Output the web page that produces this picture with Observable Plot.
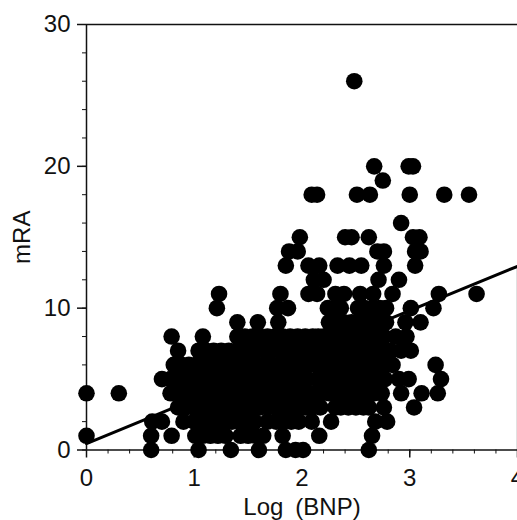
<!DOCTYPE html>
<html><head><meta charset="utf-8">
<script src="https://cdn.jsdelivr.net/npm/d3@7"></script>
<script src="https://cdn.jsdelivr.net/npm/@observablehq/plot@0.6"></script>
<style>html,body{margin:0;padding:0;background:#fff}svg{display:block}</style>
</head><body><div id="chart"></div>
<script>
const mra0=[0.6,1.04,1.34,1.6,1.85,1.94,2.01,2.62];
const mra1=[0,0.6,0.79,1.01,1.08,1.15,1.22,1.29,1.43,1.5,1.57,1.64,1.82,2.16,2.65];
const mra2=[0.61,0.7,0.9,1.0,1.07,1.14,1.21,1.28,1.35,1.42,1.49,1.56,1.68,1.76,1.83,1.9,1.97,2.09,2.27,2.68,2.79];
const mra3=[0.85,0.92,0.99,1.06,1.13,1.2,1.27,1.34,1.41,1.47,1.54,1.61,1.68,1.75,1.82,1.89,1.96,2.03,2.1,2.17,2.31,2.36,2.43,2.5,2.57,2.62,2.76,3.04];
const mra4=[0,0.3,0.78,0.85,0.92,0.99,1.06,1.13,1.2,1.27,1.34,1.41,1.48,1.55,1.62,1.69,1.76,1.83,1.9,1.97,2.04,2.11,2.18,2.25,2.32,2.39,2.46,2.53,2.6,2.67,2.74,2.92,3.11,3.26];
const mra5=[0.7,0.78,0.85,0.92,0.99,1.06,1.13,1.2,1.27,1.34,1.41,1.48,1.56,1.63,1.7,1.77,1.84,1.91,1.98,2.05,2.14,2.21,2.28,2.35,2.42,2.49,2.56,2.63,2.7,2.77,2.9,2.99,3.29];
const mra6=[0.81,0.88,0.95,1.02,1.09,1.16,1.23,1.3,1.37,1.44,1.51,1.58,1.65,1.72,1.79,1.86,1.93,2.0,2.07,2.14,2.21,2.28,2.35,2.42,2.49,2.56,2.63,2.7,2.77,2.84,3.24];
const mra7=[0.85,1.04,1.11,1.18,1.25,1.32,1.39,1.46,1.52,1.58,1.65,1.72,1.79,1.85,1.91,1.98,2.05,2.12,2.19,2.26,2.33,2.4,2.47,2.54,2.61,2.68,2.75,2.82,2.92,3.01];
const mra8=[0.79,1.08,1.4,1.47,1.54,1.61,1.68,1.75,1.82,1.89,1.96,2.03,2.1,2.15,2.2,2.27,2.34,2.41,2.48,2.55,2.62,2.69,2.76,2.87,2.97];
const mra9=[1.4,1.59,1.78,2.25,2.32,2.39,2.46,2.53,2.6,2.67,2.74,2.78,2.96,3.1];
const mra10=[1.21,1.77,1.87,2.24,2.3,2.36,2.52,2.58,2.66,2.72,2.78,3.01,3.22];
const mra11=[1.23,1.8,2.06,2.14,2.31,2.39,2.54,2.66,2.84,3.27,3.62];
const mra12=[2.11,2.2,2.71,2.9];
const mra13=[1.85,2.06,2.16,2.33,2.44,2.55,2.76,3.05];
const mra14=[1.88,1.96,2.7,2.76,3.05,3.1];
const mra15=[1.98,2.4,2.46,2.62,3.03,3.09];
const mra16=[2.92];
const mra18=[2.09,2.14,2.51,2.63,3.0,3.32,3.55];
const mra19=[2.75];
const mra20=[2.67,2.99,3.03];
const mra26=[2.485];
const rows=[[0,mra0],[1,mra1],[2,mra2],[3,mra3],[4,mra4],[5,mra5],[6,mra6],[7,mra7],[8,mra8],[9,mra9],[10,mra10],[11,mra11],[12,mra12],[13,mra13],[14,mra14],[15,mra15],[16,mra16],[18,mra18],[19,mra19],[20,mra20],[26,mra26]];
const points=rows.flatMap(([y,xs])=>xs.map(x=>({x,y})));
const trendX=[0,4], trendY=[0.45,12.95];
const trend=trendX.map((x,i)=>({x,y:trendY[i]}));
const majorX=[0,1,2,3,4], minorX=d3.range(0,4.01,0.2);
const majorY=[0,10,20,30], minorY=d3.range(0,30.1,2);
const ink="#111";
const chart=Plot.plot({
  width:517,height:520,marginLeft:86,marginRight:0,marginTop:24,marginBottom:70.5,
  style:{fontFamily:"'Liberation Sans',Arial,sans-serif",fontSize:"24px",background:"#fff",color:ink},
  x:{domain:[0,4]},y:{domain:[0,30]},
  marks:[
    Plot.ruleX([4],{y1:0,y2:13,stroke:"#888",strokeWidth:1.5}),
    Plot.ruleY([30],{stroke:ink,strokeWidth:1.5}),
    Plot.ruleY([0],{stroke:ink,strokeWidth:1.5}),
    Plot.ruleX([0],{stroke:ink,strokeWidth:1.5}),
    Plot.axisX({ticks:minorX,tickSize:4,tickFormat:null,text:null,label:null,stroke:ink}),
    Plot.axisY({ticks:minorY,tickSize:4,text:null,label:null,stroke:ink}),
    Plot.axisX({ticks:majorX,tickSize:8,tickPadding:11,tickFormat:d=>d,label:"Log\u2002(BNP)",labelAnchor:"center",labelArrow:"none",labelOffset:65,stroke:ink,fill:ink,strokeWidth:1.5}),
    Plot.axisY({ticks:majorY,tickSize:9,tickPadding:7,tickFormat:d=>d,label:"mRA",labelAnchor:"center",labelArrow:"none",labelOffset:74,stroke:ink,fill:ink,strokeWidth:1.5}),
    Plot.line(trend,{x:"x",y:"y",stroke:"#000",strokeWidth:3}),
    Plot.dot(points,{x:"x",y:"y",r:8.3,fill:"#000"})
  ]
});
document.getElementById("chart").append(chart);
</script></body></html>
